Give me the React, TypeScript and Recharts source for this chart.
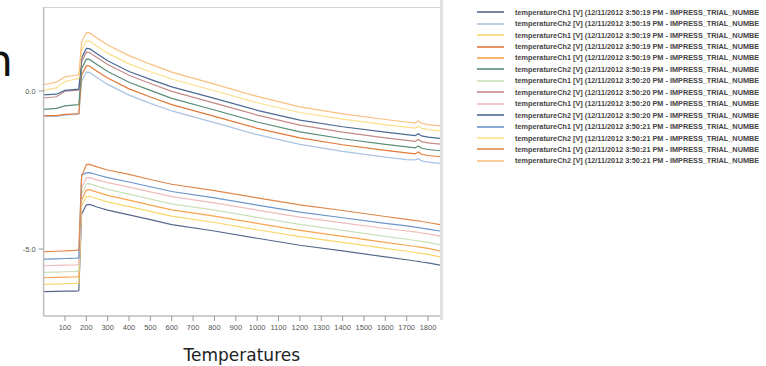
import React from 'react';
import { LineChart, Line, XAxis, YAxis, Label } from 'recharts';

// Temperature sample points (x axis)
const temps = [0, 60, 100, 150, 165, 178, 200, 215, 250, 300, 400, 500, 600, 800, 1000, 1200, 1400, 1600, 1700, 1740, 1755, 1770, 1800, 1856];
const xTicks = [100, 200, 300, 400, 500, 600, 700, 800, 900, 1000, 1100, 1200, 1300, 1400, 1500, 1600, 1700, 1800];
const yTicks = [-5, 0];

// Ch1 series (lower group)
const ch1_19a = [-6.35, -6.34, -6.33, -6.33, -6.32, -3.9, -3.6, -3.59, -3.67, -3.77, -3.92, -4.07, -4.23, -4.43, -4.66, -4.88, -5.06, -5.25, -5.34, -5.38, -5.39, -5.41, -5.44, -5.51];
const ch1_19b = [-6.12, -6.11, -6.1, -6.09, -6.08, -3.65, -3.34, -3.33, -3.41, -3.51, -3.66, -3.81, -3.96, -4.16, -4.39, -4.61, -4.79, -4.98, -5.07, -5.11, -5.12, -5.14, -5.17, -5.25];
const ch1_19c = [-5.91, -5.9, -5.89, -5.88, -5.87, -3.45, -3.13, -3.12, -3.2, -3.3, -3.45, -3.61, -3.76, -3.96, -4.19, -4.41, -4.6, -4.79, -4.88, -4.92, -4.93, -4.95, -4.98, -5.06];
const ch1_20a = [-5.74, -5.73, -5.72, -5.71, -5.7, -3.25, -2.94, -2.93, -3.01, -3.11, -3.26, -3.42, -3.57, -3.77, -4.0, -4.22, -4.41, -4.6, -4.69, -4.73, -4.74, -4.76, -4.79, -4.87];
const ch1_20b = [-5.53, -5.52, -5.51, -5.5, -5.49, -3.05, -2.75, -2.74, -2.81, -2.9, -3.04, -3.19, -3.34, -3.54, -3.77, -3.99, -4.17, -4.35, -4.43, -4.46, -4.47, -4.49, -4.52, -4.59];
const ch1_21a = [-5.32, -5.31, -5.3, -5.29, -5.28, -2.65, -2.59, -2.58, -2.65, -2.74, -2.88, -3.03, -3.18, -3.38, -3.61, -3.83, -4.01, -4.19, -4.27, -4.31, -4.32, -4.34, -4.37, -4.43];
const ch1_21b = [-5.08, -5.07, -5.06, -5.04, -5.03, -2.7, -2.33, -2.32, -2.4, -2.5, -2.64, -2.8, -2.95, -3.15, -3.38, -3.6, -3.78, -3.97, -4.06, -4.1, -4.11, -4.13, -4.16, -4.23];

// Ch2 series (upper group)
const ch2_19a = [-0.8, -0.8, -0.76, -0.74, -0.73, 0.3, 0.6, 0.59, 0.43, 0.21, -0.13, -0.39, -0.63, -1.0, -1.38, -1.69, -1.91, -2.09, -2.17, -2.18, -2.14, -2.21, -2.25, -2.29];
const ch2_19b = [-0.78, -0.78, -0.74, -0.72, -0.71, 0.5, 0.8, 0.79, 0.63, 0.41, 0.07, -0.19, -0.43, -0.8, -1.18, -1.48, -1.7, -1.88, -1.96, -1.99, -1.93, -2.0, -2.04, -2.08];
const ch2_19c = [-0.58, -0.55, -0.47, -0.44, -0.43, 0.71, 1.01, 1.0, 0.84, 0.62, 0.28, 0.02, -0.23, -0.6, -0.98, -1.29, -1.51, -1.69, -1.77, -1.8, -1.74, -1.81, -1.85, -1.89];
const ch2_20a = [-0.22, -0.18, 0.0, 0.02, 0.03, 0.93, 1.23, 1.22, 1.06, 0.84, 0.5, 0.24, -0.01, -0.38, -0.76, -1.08, -1.3, -1.48, -1.56, -1.59, -1.53, -1.6, -1.64, -1.68];
const ch2_20b = [-0.12, -0.1, 0.02, 0.05, 0.06, 1.05, 1.35, 1.34, 1.18, 0.96, 0.62, 0.37, 0.13, -0.23, -0.61, -0.92, -1.13, -1.3, -1.38, -1.41, -1.35, -1.42, -1.46, -1.5];
const ch2_21a = [0.02, 0.1, 0.3, 0.38, 0.4, 1.29, 1.59, 1.58, 1.42, 1.2, 0.86, 0.61, 0.38, 0.01, -0.37, -0.68, -0.89, -1.06, -1.14, -1.17, -1.11, -1.18, -1.22, -1.26];
const ch2_21b = [0.2, 0.28, 0.45, 0.5, 0.52, 1.55, 1.85, 1.84, 1.68, 1.46, 1.12, 0.85, 0.6, 0.22, -0.17, -0.5, -0.72, -0.9, -0.98, -1.01, -0.95, -1.02, -1.06, -1.1];

const series = [
  { key: 's1', name: 'temperatureCh1 [V] (12/11/2012 3:50:19 PM - IMPRESS_TRIAL_NUMBE', color: '#56698a', values: ch1_19a },
  { key: 's2', name: 'temperatureCh2 [V] (12/11/2012 3:50:19 PM - IMPRESS_TRIAL_NUMBE', color: '#a9c3e2', values: ch2_19a },
  { key: 's3', name: 'temperatureCh1 [V] (12/11/2012 3:50:19 PM - IMPRESS_TRIAL_NUMBE', color: '#f8d76a', values: ch1_19b },
  { key: 's4', name: 'temperatureCh2 [V] (12/11/2012 3:50:19 PM - IMPRESS_TRIAL_NUMBE', color: '#e07a38', values: ch2_19b },
  { key: 's5', name: 'temperatureCh1 [V] (12/11/2012 3:50:19 PM - IMPRESS_TRIAL_NUMBE', color: '#f9a450', values: ch1_19c },
  { key: 's6', name: 'temperatureCh2 [V] (12/11/2012 3:50:19 PM - IMPRESS_TRIAL_NUMBE', color: '#5a8e76', values: ch2_19c },
  { key: 's7', name: 'temperatureCh1 [V] (12/11/2012 3:50:20 PM - IMPRESS_TRIAL_NUMBE', color: '#c9e0b8', values: ch1_20a },
  { key: 's8', name: 'temperatureCh2 [V] (12/11/2012 3:50:20 PM - IMPRESS_TRIAL_NUMBE', color: '#c48a86', values: ch2_20a },
  { key: 's9', name: 'temperatureCh1 [V] (12/11/2012 3:50:20 PM - IMPRESS_TRIAL_NUMBE', color: '#efbcbc', values: ch1_20b },
  { key: 's10', name: 'temperatureCh2 [V] (12/11/2012 3:50:20 PM - IMPRESS_TRIAL_NUMBE', color: '#4c6995', values: ch2_20b },
  { key: 's11', name: 'temperatureCh1 [V] (12/11/2012 3:50:21 PM - IMPRESS_TRIAL_NUMBE', color: '#6b94c9', values: ch1_21a },
  { key: 's12', name: 'temperatureCh2 [V] (12/11/2012 3:50:21 PM - IMPRESS_TRIAL_NUMBE', color: '#fbdf8a', values: ch2_21a },
  { key: 's13', name: 'temperatureCh1 [V] (12/11/2012 3:50:21 PM - IMPRESS_TRIAL_NUMBE', color: '#e0884a', values: ch1_21b },
  { key: 's14', name: 'temperatureCh2 [V] (12/11/2012 3:50:21 PM - IMPRESS_TRIAL_NUMBE', color: '#fbbf80', values: ch2_21b },
];

const data = temps.map((t, i) => {
  const row: Record<string, number> = { t };
  series.forEach((s) => {
    row[s.key] = s.values[i];
  });
  return row;
});

const tickStyle = { fontSize: 7.5, fill: '#555', fontFamily: 'Liberation Sans, Arial, sans-serif' };

function SeriesLegend() {
  return (
    <div style={{ position: 'absolute', left: 477, top: 6.5, width: 288 }}>
      {series.map((s) => (
        <div key={s.key} style={{ height: 11.45, display: 'flex', alignItems: 'center', whiteSpace: 'nowrap' }}>
          <svg width={38} height={4} style={{ flex: 'none' }}>
            <line x1={0} y1={2} x2={27} y2={2} stroke={s.color} strokeWidth={1.6} />
          </svg>
          <span style={{ fontSize: 7.3, color: '#444', fontFamily: 'Liberation Sans, Arial, sans-serif', fontWeight: 'bold' }}>
            {s.name}
          </span>
        </div>
      ))}
    </div>
  );
}

export default function App() {
  return (
    <div style={{ position: 'fixed', left: 0, top: 0, width: 766, height: 366, background: '#fff', overflow: 'hidden' }}>
      <div style={{ position: 'absolute', left: 0, top: 0 }}>
        <LineChart width={766} height={366} data={data} margin={{ top: 7, right: 326, bottom: 0, left: 0 }}>
          <XAxis
            dataKey="t"
            type="number"
            domain={[0, 1856]}
            ticks={xTicks}
            allowDataOverflow
            interval={0}
            tickSize={5}
            tickMargin={4}
            height={50}
            tick={tickStyle}
            axisLine={{ stroke: '#bdbdbd', strokeWidth: 1.5 }}
            tickLine={{ stroke: '#999' }}
          >
            <Label
              value="Temperatures"
              position="insideBottom"
              offset={5}
              style={{ fontSize: 17, fill: '#222', fontFamily: 'DejaVu Sans, sans-serif' }}
            />
          </XAxis>
          <YAxis
            type="number"
            domain={[-7.12, 2.66]}
            ticks={yTicks}
            allowDataOverflow
            width={43.6}
            tickSize={5}
            tickMargin={3}
            tick={tickStyle}
            tickFormatter={(v: number) => v.toFixed(1)}
            axisLine={{ stroke: '#bdbdbd', strokeWidth: 1.5 }}
            tickLine={{ stroke: '#999' }}
          />
          {series.map((s) => (
            <Line
              key={s.key}
              dataKey={s.key}
              name={s.name}
              stroke={s.color}
              strokeWidth={1.2}
              dot={false}
              activeDot={false}
              type="linear"
              isAnimationActive={false}
            />
          ))}
        </LineChart>
      </div>
      <SeriesLegend />
      {/* frame: top border and right separator */}
      <div style={{ position: 'absolute', left: 43.6, top: 6.5, width: 396.4, height: 0, borderTop: '1px solid #d4d4d4' }} />
      <div style={{ position: 'absolute', left: 440, top: 0, width: 3, height: 320, background: '#e2e2e2' }} />
      <svg style={{ position: 'absolute', left: 0, top: 0 }} width={40} height={100}>
        <text x={13} y={76} textAnchor="end" fontSize={44} fontFamily="DejaVu Sans, sans-serif" fill="#111">n</text>
      </svg>
    </div>
  );
}
